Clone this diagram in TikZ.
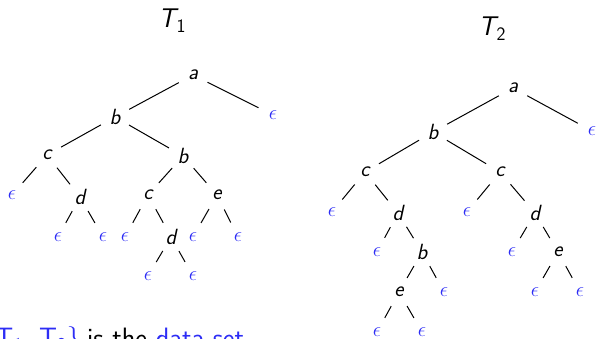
\documentclass[tikz,border=0pt]{standalone}
\definecolor{epsblue}{RGB}{45,45,245}
\begin{document}
\begin{tikzpicture}[x=1pt,y=-1pt,
  lab/.style={circle,inner sep=0pt,minimum size=32pt,font=\fontsize{22}{26}\selectfont\sffamily\itshape},
  eps/.style={circle,inner sep=0pt,minimum size=32pt,text=epsblue,font=\fontsize{22}{26}\selectfont},
  ttl/.style={inner sep=0pt,font=\fontsize{27}{30}\selectfont\sffamily\itshape},
  btxt/.style={inner sep=0pt,font=\fontsize{28}{32}\selectfont\sffamily},
  edge/.style={line width=1pt,black}]
\useasboundingbox (0,0) rectangle (596,339);
\clip (0,0) rectangle (596,339);
% ---------- T1 ----------
\node[ttl] (T1) at (172,21) {T\kern0.04em\raisebox{-0.45ex}{\upshape\fontsize{19}{21}\selectfont 1}};
\node[lab] (a1) at (193,75) {a};
\node[eps] (x1) at (273,115) {$\epsilon$};
\node[lab] (b1) at (115,117) {b};
\node[lab] (c1) at (47,155) {c};
\node[lab] (b2) at (183,156) {b};
\node[eps] (x2) at (12,195) {$\epsilon$};
\node[lab] (d1) at (80,197) {d};
\node[lab] (c2) at (148,195) {c};
\node[lab] (e1) at (217,195) {e};
\node[eps] (x3) at (58,237) {$\epsilon$};
\node[eps] (x4) at (103,237) {$\epsilon$};
\node[eps] (x5) at (125,237) {$\epsilon$};
\node[lab] (d2) at (171,237) {d};
\node[eps] (x6) at (193,237) {$\epsilon$};
\node[eps] (x7) at (238,237) {$\epsilon$};
\node[eps] (x8) at (148,276) {$\epsilon$};
\node[eps] (x9) at (193,276) {$\epsilon$};
\foreach \p/\c in {a1/x1,a1/b1,b1/c1,b1/b2,c1/x2,c1/d1,d1/x3,d1/x4,b2/c2,b2/e1,c2/x5,c2/d2,d2/x8,d2/x9,e1/x6,e1/x7}
  \draw[edge] (\p) -- (\c);
% ---------- T2 ----------
\node[ttl] (T2) at (492,29) {T\kern0.04em\raisebox{-0.45ex}{\upshape\fontsize{19}{21}\selectfont 2}};
\node[lab] (A) at (513,88) {a};
\node[eps] (Y1) at (592,131) {$\epsilon$};
\node[lab] (B) at (433,132) {b};
\node[lab] (CL) at (365,172) {c};
\node[lab] (CR) at (500,172) {c};
\node[eps] (Y2) at (332,212) {$\epsilon$};
\node[lab] (DL) at (398,213) {d};
\node[eps] (Y3) at (467,212) {$\epsilon$};
\node[lab] (DR) at (535,213) {d};
\node[eps] (Y4) at (377,252) {$\epsilon$};
\node[lab] (BB) at (422,252) {b};
\node[eps] (Y5) at (512,252) {$\epsilon$};
\node[lab] (ER) at (558,252) {e};
\node[lab] (EL) at (399,292) {e};
\node[eps] (Y6) at (444,292) {$\epsilon$};
\node[eps] (Y7) at (535,292) {$\epsilon$};
\node[eps] (Y8) at (580,292) {$\epsilon$};
\node[eps] (Y9) at (377,332) {$\epsilon$};
\node[eps] (Y10) at (422,332) {$\epsilon$};
\foreach \p/\c in {A/Y1,A/B,B/CL,B/CR,CL/Y2,CL/DL,DL/Y4,DL/BB,BB/EL,BB/Y6,EL/Y9,EL/Y10,CR/Y3,CR/DR,DR/Y5,DR/ER,ER/Y7,ER/Y8}
  \draw[edge] (\p) -- (\c);
% ---------- bottom text (cut off) ----------
\node[btxt,anchor=base east,text=epsblue] (set) at (81,347) {\{T\textsubscript{1}, T\textsubscript{2}\}};
\node[btxt,anchor=base west] (txt) at (87,347) {is the \textcolor{epsblue}{data set}};
\end{tikzpicture}
\end{document}
